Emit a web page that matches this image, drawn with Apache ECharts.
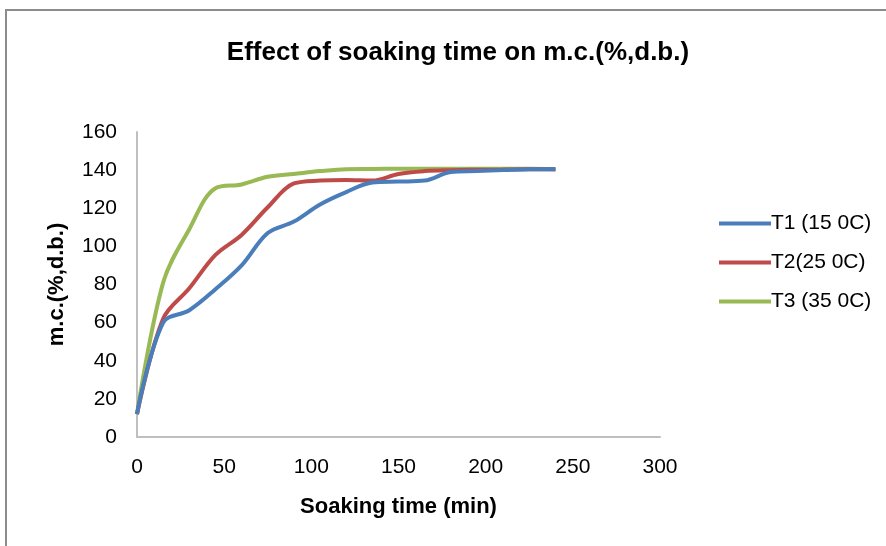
<!DOCTYPE html>
<html>
<head>
<meta charset="utf-8">
<script src="https://cdn.jsdelivr.net/npm/echarts@6/dist/echarts.min.js"></script>
<style>html,body{margin:0;padding:0;background:#fff;}#c{width:886px;height:546px;}</style>
</head>
<body>
<div id="c"></div>
<script>
var times = [0, 15, 30, 45, 60, 75, 90, 105, 120, 135, 150, 165, 180, 195, 210, 225, 240];
var t1 = [12, 60, 66.5, 77.5, 90, 107, 113, 122, 128.5, 133.5, 134, 134.5, 139, 139.5, 140, 140.5, 140.5];
var t2 = [12, 62, 78, 95.5, 106, 120.5, 133, 134.5, 134.8, 134.5, 138, 139.5, 140, 140.2, 140.3, 140.4, 140.5];
var t3 = [12, 81, 109, 130.5, 132.5, 136.5, 138, 139.5, 140.5, 140.6, 140.7, 140.7, 140.7, 140.7, 140.7, 140.7, 140.5];
var seriesNames = ['T1 (15 0C)', 'T2(25 0C)', 'T3 (35 0C)'];
var colors = ['#4A7EBB', '#BE4B48', '#98B954'];
var xTicks = [0, 50, 100, 150, 200, 250, 300];
var yTicks = [0, 20, 40, 60, 80, 100, 120, 140, 160];

function pairs(vals) { return times.map(function (t, i) { return [t, vals[i]]; }); }
var allVals = [t1, t2, t3];
var font = 'Liberation Sans, sans-serif';

var chart = echarts.init(document.getElementById('c'), null, {renderer: 'canvas'});
chart.setOption({
  backgroundColor: '#fff',
  animation: false,
  title: {
    text: 'Effect of soaking time on m.c.(%,d.b.)',
    left: 453, top: 35, textAlign: 'center',
    textStyle: {fontFamily: font, fontWeight: 'bold', fontSize: 26, color: '#000'}
  },
  graphic: [{
    type: 'rect', shape: {x: 6, y: 10, width: 1000, height: 1000},
    style: {fill: 'none', stroke: '#8c8c8c', lineWidth: 2}, silent: true
  }],
  legend: {
    orient: 'vertical', left: 714, top: 208, itemGap: 18,
    itemWidth: 52, itemHeight: 4,
    icon: 'rect',
    textStyle: {fontFamily: font, fontSize: 21, color: '#000', padding: [0, 0, 0, -5]},
    data: seriesNames
  },
  grid: {left: 137, right: 226, top: 132, bottom: 109, containLabel: false},
  xAxis: {
    type: 'value', min: 0, max: 300, interval: 50,
    name: 'Soaking time (min)', nameLocation: 'middle', nameGap: 59,
    nameTextStyle: {fontFamily: font, fontWeight: 'bold', fontSize: 22, color: '#000'},
    axisLine: {show: true, lineStyle: {color: '#bfbfbf', width: 2}},
    axisTick: {show: false},
    splitLine: {show: false},
    axisLabel: {fontFamily: font, fontSize: 21, color: '#000', margin: 20,
      formatter: function (v) { return xTicks.indexOf(v) >= 0 ? String(v) : ''; }}
  },
  yAxis: {
    type: 'value', min: 0, max: 160, interval: 20,
    name: 'm.c.(%,d.b.)', nameLocation: 'middle', nameGap: 69, nameRotate: 90,
    nameTextStyle: {fontFamily: font, fontWeight: 'bold', fontSize: 22, color: '#000'},
    axisLine: {show: true, lineStyle: {color: '#bfbfbf', width: 2}},
    axisTick: {show: false},
    splitLine: {show: false},
    axisLabel: {fontFamily: font, fontSize: 21, color: '#000', margin: 20,
      formatter: function (v) { return yTicks.indexOf(v) >= 0 ? String(v) : ''; }}
  },
  series: seriesNames.map(function (n, i) {
    return {
      name: n, type: 'line', data: pairs(allVals[i]), smooth: 0.35,
      showSymbol: false, symbol: 'none',
      lineStyle: {color: colors[i], width: 4},
      itemStyle: {color: colors[i]},
      z: 3 - i
    };
  })
});
</script>
</body>
</html>
